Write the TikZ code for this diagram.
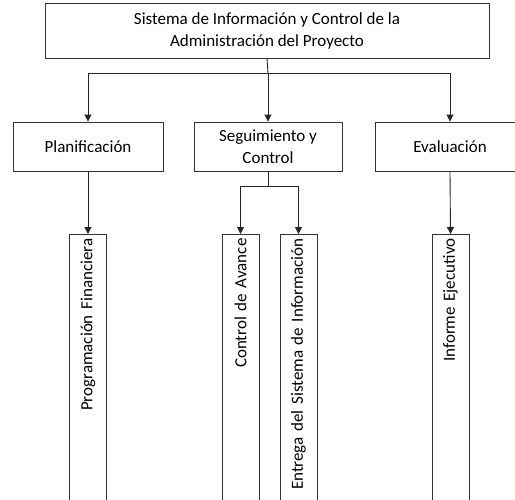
\documentclass[tikz,border=0pt]{standalone}
\usepackage{fontspec}
\setmainfont{Carlito}
\usetikzlibrary{arrows.meta}

\tikzset{
  box/.style={draw=black!80,line width=0.9pt,align=center,inner sep=3pt,
    font=\fontsize{17}{22}\selectfont},
  tallbox/.style={draw=black!80,line width=0.9pt,rotate=90,anchor=east,
    minimum width=300pt,minimum height=37pt,text width=292pt,align=right,
    inner xsep=4pt,font=\fontsize{17}{22}\selectfont},
  arr/.style={draw=black!85,line width=0.9pt,-{Triangle[length=7pt,width=7pt]}},
  lin/.style={draw=black!85,line width=0.9pt}
}

\begin{document}
\begin{tikzpicture}[x=1pt,y=-1pt]
        \useasboundingbox (0,0) rectangle (515,499);
        \clip (0,0) rectangle (515,499);
        % top level
        \node[box,minimum width=444pt,minimum height=55pt] (sis) at (267,30.5)
                {Sistema de Información y Control de la\\Administración del Proyecto};
        % second level
        \node[box,minimum width=150pt,minimum height=49pt] (plan) at (88,146.5) {Planificación};
        \node[box,minimum width=148pt,minimum height=49pt] (seg) at (268,146.5) {Seguimiento y\\Control};
        \node[box,minimum width=150pt,minimum height=49pt] (eval) at (450,146.5) {Evaluación};
        % third level, boxes run off the bottom
        \node[tallbox] (prog) at (88,234) {Programación Financiera};
        \node[tallbox] (avance) at (240.5,234) {Control de Avance};
        \node[tallbox] (entrega) at (298.5,234) {Entrega del Sistema de Información};
        \node[tallbox] (informe) at (450.5,234) {Informe Ejecutivo};
        % connectors
        \coordinate (bar) at (268,73);
        \coordinate (bar2) at (268,186);
        \draw[lin] (sis.south) -- (bar);
        \draw[arr] (bar) -| (plan.north);
        \draw[arr] (bar) -- (seg.north);
        \draw[arr] (bar) -| (eval.north);
        \draw[arr] (plan.south) -- (prog.east);
        \draw[lin] (seg.south) -- (bar2);
        \draw[arr] (bar2) -| (avance.east);
        \draw[arr] (bar2) -| (entrega.east);
        \draw[arr] (eval.south) -- (informe.east);
\end{tikzpicture}
\end{document}
